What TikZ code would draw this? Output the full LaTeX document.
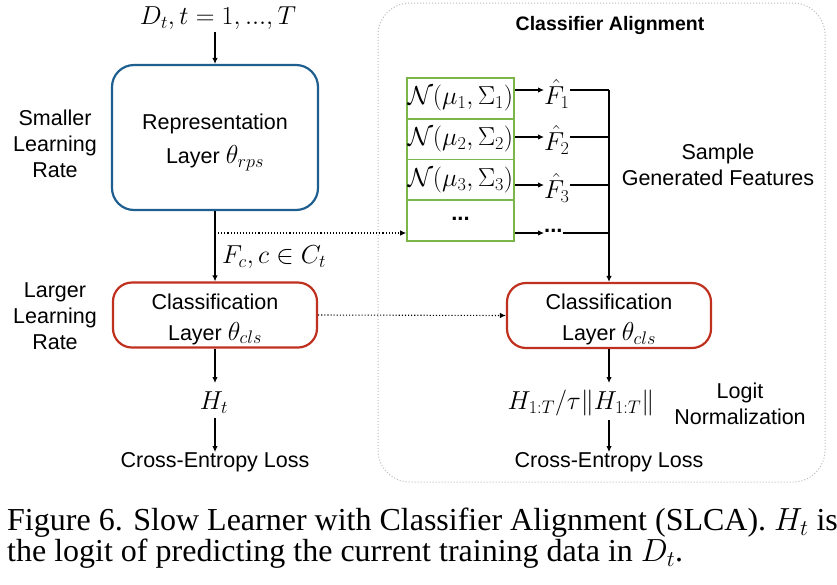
\RequirePackage{fix-cm}
\documentclass[tikz,border=0pt]{standalone}
\usepackage{amsmath}
\usepackage{fontspec}
\setmainfont{Liberation Sans}
\newfontfamily\capfont{Liberation Serif}
\usetikzlibrary{arrows.meta}
\definecolor{repblue}{HTML}{1F5F8F}
\definecolor{clsred}{HTML}{C0301E}
\definecolor{gaugreen}{HTML}{7AB648}
\definecolor{boxgray}{HTML}{BBBBBB}
\newcommand{\mth}[1]{{\fontsize{26}{30}\selectfont$#1$}}
\begin{document}
\begin{tikzpicture}[x=1pt,y=-1pt,
  txt/.style={font=\fontsize{21.5}{26}\selectfont, align=center, inner sep=0pt},
  mathlbl/.style={inner sep=0pt},
  repbox/.style={draw=repblue, line width=2.2pt, rounded corners=22pt, minimum width=206pt, minimum height=145pt},
  clsbox/.style={draw=clsred, line width=2.2pt, rounded corners=19pt, minimum width=204pt, minimum height=65pt},
  reptext/.style={align=center, inner sep=0pt, font=\fontsize{21.5}{34}\selectfont},
  clstext/.style={align=center, inner sep=0pt, font=\fontsize{21.5}{31}\selectfont},
  gaurow/.style={draw=gaugreen, line width=1.6pt, minimum width=107pt, minimum height=40.75pt, inner sep=0pt},
  conn/.style={draw, line width=1.1pt, -{Latex[length=6pt,width=5.5pt]}},
  plain/.style={draw, line width=1.1pt},
  dotconn/.style={draw, line width=1.1pt, dash pattern=on 1.1pt off 2pt, -{Latex[length=6pt,width=5.5pt]}},
]
\useasboundingbox (0,0) rectangle (837,584);

% Classifier alignment frame
\node[draw=boxgray, line width=1pt, dash pattern=on 1pt off 2pt, rounded corners=32pt,
      minimum width=447pt, minimum height=479pt, inner sep=0pt] (cabox) at (601.5,242.5) {};
\node[txt, font=\bfseries\fontsize{19.5}{24}\selectfont] (catitle) at (610,25) {Classifier Alignment};

% Left column
\node[mathlbl] (data) at (218,18) {\mth{D_t, t=1,...,T}};
\node[repbox] (rep) at (215,137.5) {};
\node[reptext, yshift=-5pt] (reptxt) at (rep.center) {Representation\\Layer \mth{\theta_{rps}}};
\node[clsbox] (cls1) at (215,315) {};
\node[clstext, yshift=-4pt] (cls1txt) at (cls1.center) {Classification\\Layer \mth{\theta_{cls}}};
\node[txt] (slow) at (55,144) {Smaller\\Learning\\Rate};
\node[txt] (fast) at (55,316) {Larger\\Learning\\Rate};
\node[mathlbl, anchor=west] (fc) at (222,257) {\mth{F_c, c\in C_t}};
\coordinate (j) at (215,233);
\node[mathlbl] (ht) at (214,403) {\mth{H_t}};
\node[txt] (ce1) at (215,462) {Cross-Entropy Loss};

\draw[conn] (rep.north |- 0,32) -- (rep.north);
\draw[conn] (rep.south) -- (cls1.north);
\draw[conn] (cls1.south) -- (cls1.south |- 0,383);
\draw[conn] (ce1.north |- 0,418) -- (ce1.north);

% Gaussian table
\node[gaurow] (r1) at (460.5,98.4) {\mth{\mathcal{N}(\mu_1,\Sigma_1)}};
\node[gaurow] (r2) at (460.5,139.1) {\mth{\mathcal{N}(\mu_2,\Sigma_2)}};
\node[gaurow] (r3) at (460.5,179.9) {\mth{\mathcal{N}(\mu_3,\Sigma_3)}};
\node[gaurow] (r4) at (460.5,220.6) {\raisebox{4pt}{\textbf{\fontsize{22}{26}\selectfont...}}};

\draw[dotconn] (j) -- (j -| r4.west);

% Sampled features
\node[mathlbl, anchor=west] (f1) at (544,94) {\mth{\hat{F}_1}};
\node[mathlbl, anchor=west] (f2) at (544,140) {\mth{\hat{F}_2}};
\node[mathlbl, anchor=west] (f3) at (544,188) {\mth{\hat{F}_3}};
\node[txt, anchor=west] (f4) at (544,231) {\textbf{\fontsize{22}{26}\selectfont...}};
\coordinate (bus) at (609,90);

\draw[conn] (r1.east |- 0,90) -- (f1.west |- 0,90);
\draw[conn] (r2.east |- 0,137) -- (f2.west |- 0,137);
\draw[conn] (r3.east |- 0,185) -- (f3.west |- 0,185);
\draw[conn] (r4.east |- 0,233) -- (f4.west |- 0,233);
\draw[plain] (f1.east |- 0,90) -- (bus |- 0,90);
\draw[plain] (f2.east |- 0,137) -- (bus |- 0,137);
\draw[plain] (f3.east |- 0,185) -- (bus |- 0,185);
\draw[plain] (f4.east |- 0,233) -- (bus |- 0,233);

\node[txt] (sample) at (718,164.5) {Sample\\Generated Features};

% Right classifier
\node[clsbox] (cls2) at (609,315.5) {};
\node[clstext, yshift=-4pt] (cls2txt) at (cls2.center) {Classification\\Layer \mth{\theta_{cls}}};
\draw[conn] (bus) -- (cls2.north);
\draw[dotconn] (cls1.east) -- (cls2.west);
\node[mathlbl] (hn) at (581,403) {\mth{H_{1:T}/\tau\|H_{1:T}\|}};
\node[txt] (logit) at (740,403.5) {Logit\\Normalization};
\node[txt] (ce2) at (609,462) {Cross-Entropy Loss};
\draw[conn] (cls2.south) -- (cls2.south |- 0,383);
\draw[conn] (ce2.north |- 0,420) -- (ce2.north);

% Caption
\node[anchor=north west, align=left, inner sep=0pt, font=\capfont\fontsize{32}{31}\selectfont] (cap) at (7,508)
  {Figure 6. Slow Learner with Classifier Alignment (SLCA). $H_t$ is\\the logit of predicting the current training data in $D_t$.};
\end{tikzpicture}
\end{document}
